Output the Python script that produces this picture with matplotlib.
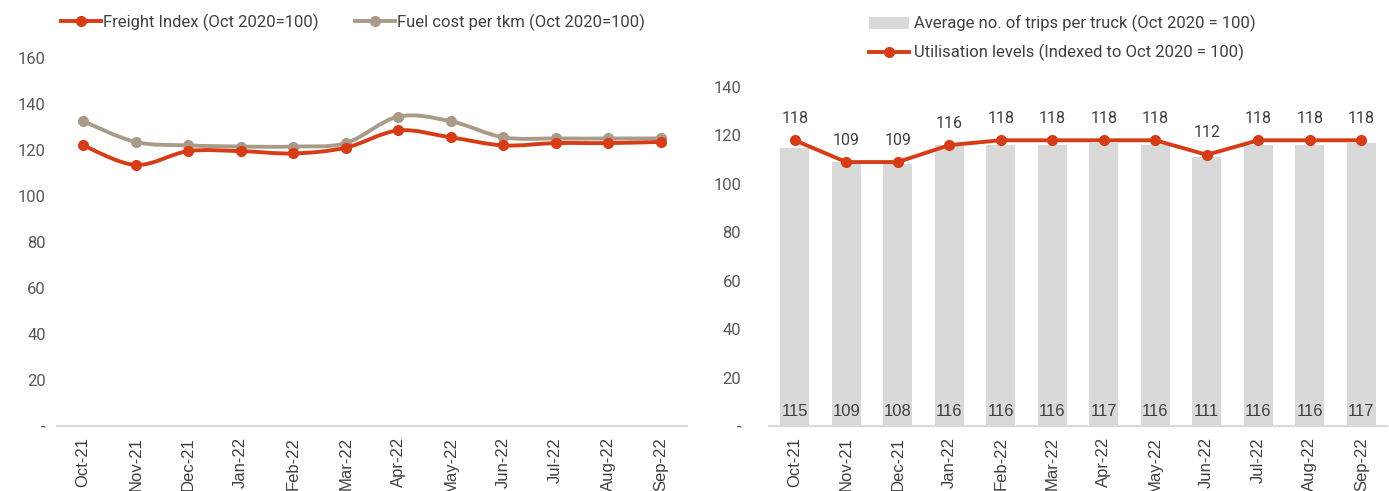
import matplotlib.pyplot as plt
import numpy as np
from matplotlib.path import Path
from matplotlib.patches import PathPatch
from matplotlib.lines import Line2D

plt.rcParams['font.family'] = ['Roboto', 'DejaVu Sans']

months = ['Oct-21', 'Nov-21', 'Dec-21', 'Jan-22', 'Feb-22', 'Mar-22',
          'Apr-22', 'May-22', 'Jun-22', 'Jul-22', 'Aug-22', 'Sep-22']
freight = [122, 113.5, 119.5, 119.5, 118.5, 121, 128.5, 125.5, 122, 123, 123, 123.5]
fuel = [132.5, 123.5, 122, 121.5, 121.5, 123, 134.5, 132.5, 125.5, 125, 125, 125]
trips = [115, 109, 108, 116, 116, 116, 117, 116, 111, 116, 116, 117]
util = [118, 109, 109, 116, 118, 118, 118, 118, 112, 118, 118, 118]

red = '#D63C16'
tan = '#A99B88'
grey_bar = '#D9D9D9'
txt = '#404040'


def smooth_path(xs, ys, t=1 / 6):
    # 平滑线 (类似 Excel 的 smoothed line)，用贝塞尔曲线连接数据点
    pts = np.column_stack([xs, ys]).astype(float)
    verts = [pts[0]]
    codes = [Path.MOVETO]
    n = len(pts)
    for i in range(n - 1):
        p0 = pts[max(i - 1, 0)]
        p1 = pts[i]
        p2 = pts[i + 1]
        p3 = pts[min(i + 2, n - 1)]
        verts += [p1 + (p2 - p0) * t, p2 - (p3 - p1) * t, p2]
        codes += [Path.CURVE4] * 3
    return Path(verts, codes)


fig = plt.figure(figsize=(13.89, 4.91), dpi=100)
x = np.arange(len(months))

# 左图
ax1 = fig.add_axes([0.041, 0.1324, 0.4536, 0.7495])
for vals, col, z in ((fuel, tan, 2), (freight, red, 3)):
    ax1.add_patch(PathPatch(smooth_path(x, vals), fc='none', ec=col, lw=2.8, zorder=z))
    ax1.plot(x, vals, ls='none', marker='o', ms=7, color=col, zorder=z)
h1 = [Line2D([], [], color=red, lw=2.8, marker='o', ms=7),
      Line2D([], [], color=tan, lw=2.8, marker='o', ms=7)]
l1 = ['Freight Index (Oct 2020=100)', 'Fuel cost per tkm (Oct 2020=100)']
ax1.set_ylim(0, 160)
ax1.set_yticks(range(0, 161, 20))
ax1.set_yticklabels(['-'] + [str(v) for v in range(20, 161, 20)])

# 右图
ax2 = fig.add_axes([0.5536, 0.1324, 0.445, 0.6904])
b = ax2.bar(x, trips, width=0.57, color=grey_bar, zorder=1)
ln, = ax2.plot(x, util, color=red, lw=2.8, marker='o', ms=7, zorder=3)
ax2.set_ylim(0, 140)
ax2.set_yticks(range(0, 141, 20))
ax2.set_yticklabels(['-'] + [str(v) for v in range(20, 141, 20)])
for i in x:
    ax2.text(i, util[i] + 6, str(util[i]), ha='center', va='bottom', fontsize=11.5, color=txt)
    ax2.text(i, 3, str(trips[i]), ha='center', va='bottom', fontsize=12, color=txt,
             family=['Liberation Sans Narrow', 'Liberation Sans'])

for ax, pad in ((ax1, 8), (ax2, 20)):
    ax.set_xlim(-0.5, len(months) - 0.5)
    ax.set_xticks(x)
    ax.set_xticklabels(months, rotation=90, fontsize=12, color=txt, family=['Liberation Sans'])
    for s in ('top', 'right', 'left'):
        ax.spines[s].set_visible(False)
    ax.spines['bottom'].set_color(grey_bar)
    ax.spines['bottom'].set_linewidth(1.5)
    ax.tick_params(axis='both', length=0)
    ax.tick_params(axis='x', pad=8)
    ax.tick_params(axis='y', pad=pad, labelsize=12, labelcolor='#595959')

fig.legend(h1, l1, loc='center', bbox_to_anchor=(0.254, 0.955),
           ncol=2, frameon=False, fontsize=12, handlelength=2.4, handletextpad=0.1,
           columnspacing=2.2, labelcolor=txt)
fig.legend([b, ln], ['Average no. of trips per truck (Oct 2020 = 100)',
                     'Utilisation levels (Indexed to Oct 2020 = 100)'],
           loc='center left', bbox_to_anchor=(0.615, 0.922),
           ncol=1, frameon=False, fontsize=12, handlelength=2.4, handletextpad=0.3,
           labelspacing=0.7, labelcolor=txt)

plt.savefig('out.png')
